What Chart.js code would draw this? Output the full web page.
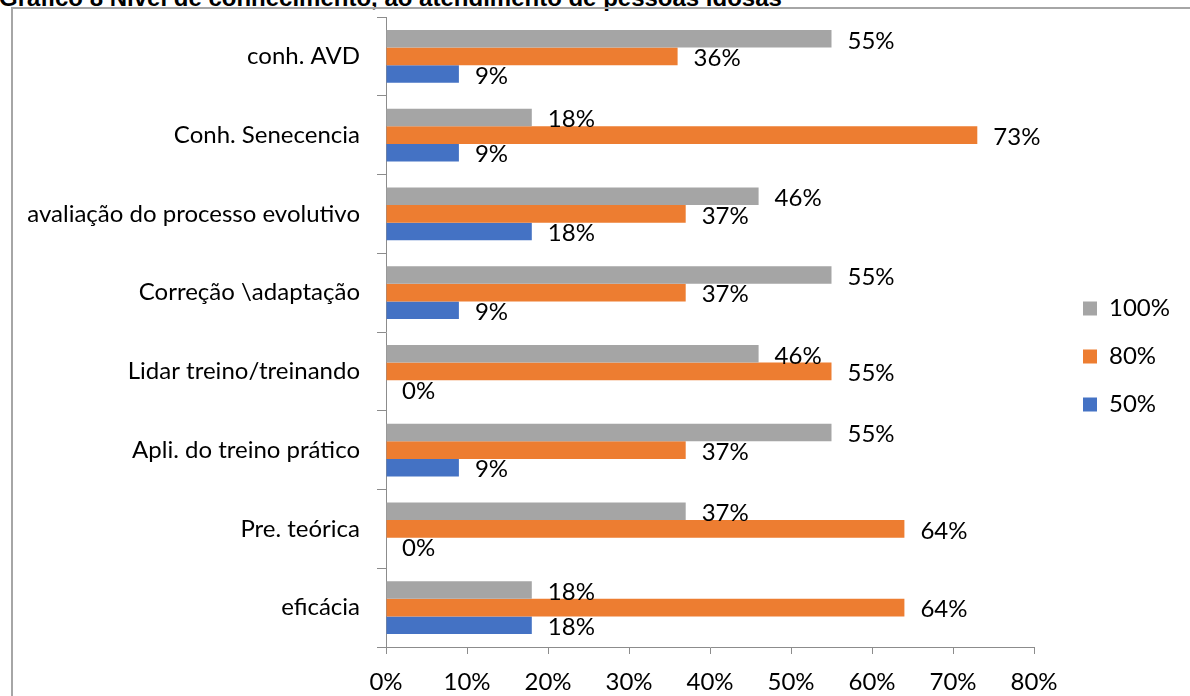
<!DOCTYPE html>
<html lang="pt">
<head>
  <meta charset="UTF-8">
  <title>Nível de conhecimento</title>
  <style>
    html, body {
      margin: 0;
      padding: 0;
      background: #fff;
      overflow: hidden;
    }
    .page {
      position: relative;
      width: 1190px;
      height: 696px;
      overflow: hidden;
    }
    .heading {
      position: absolute;
      left: -1px;
      top: -14px;
      font-family: "Liberation Sans", Arial, sans-serif;
      font-weight: bold;
      font-size: 24px;
      line-height: 24px;
      color: #000;
      white-space: nowrap;
    }
    .frame {
      position: absolute;
      left: 11px;
      top: 7px;
      width: 1400px;
      height: 900px;
      border: 2px solid #a6a6a6;
    }
    #chart {
      position: absolute;
      left: 0;
      top: 0;
    }
  </style>
  <script src="https://cdn.jsdelivr.net/npm/chart.js"></script>
</head>
<body>
  <div class="page">
    <div class="heading">Gráfico 8 Nível de conhecimento, ao atendimento de pessoas idosas</div>
    <div class="frame"></div>
    <canvas id="chart" width="1190" height="696"></canvas>
  </div>

  <script>
    // Categories, top to bottom
    const categories = [
      'conh. AVD',
      'Conh. Senecencia',
      'avaliação do processo evolutivo',
      'Correção \\adaptação',
      'Lidar treino/treinando',
      'Apli. do treino prático',
      'Pre. teórica',
      'eficácia'
    ];

    // Percent of answers per level
    const level100 = [55, 18, 46, 55, 46, 55, 37, 18];
    const level80 = [36, 73, 37, 37, 55, 37, 64, 64];
    const level50 = [9, 9, 18, 9, 0, 9, 0, 18];

    const xTicks = [0, 10, 20, 30, 40, 50, 60, 70, 80];

    const FONT = 'Lato, "Open Sans", sans-serif';
    const FONT_SIZE = 24;
    const AXIS_GREY = '#8c8c8c';

    // value labels drawn just past the end of each bar
    const barLabels = {
      id: 'barLabels',
      afterDatasetsDraw(chart) {
        const ctx = chart.ctx;
        ctx.save();
        ctx.font = FONT_SIZE + 'px ' + FONT;
        ctx.fillStyle = '#000';
        ctx.textAlign = 'left';
        ctx.textBaseline = 'middle';
        chart.data.datasets.forEach((ds, i) => {
          const meta = chart.getDatasetMeta(i);
          meta.data.forEach((bar, j) => {
            ctx.fillText(ds.data[j] + '%', bar.x + 16, bar.y + 2);
          });
        });
        ctx.restore();
      }
    };

    new Chart(document.getElementById('chart'), {
      type: 'bar',
      data: {
        labels: categories,
        datasets: [
          { label: '100%', data: level100, backgroundColor: '#a5a5a5' },
          { label: '80%', data: level80, backgroundColor: '#ed7d31' },
          { label: '50%', data: level50, backgroundColor: '#4472c4' }
        ]
      },
      options: {
        indexAxis: 'y',
        responsive: false,
        devicePixelRatio: 1,
        animation: false,
        categoryPercentage: 0.67,
        barPercentage: 1,
        layout: {
          padding: { left: 0, top: 17, right: 10, bottom: 0 }
        },
        scales: {
          x: {
            min: 0,
            max: 80,
            afterBuildTicks: scale => {
              scale.ticks = xTicks.map(v => ({ value: v }));
            },
            afterFit: scale => { scale.height = 49; },
            border: { display: true, color: AXIS_GREY, width: 1 },
            grid: {
              drawOnChartArea: false,
              color: AXIS_GREY,
              tickColor: AXIS_GREY,
              tickLength: 7
            },
            ticks: {
              color: '#000',
              padding: 14,
              font: { family: FONT, size: FONT_SIZE },
              maxRotation: 0,
              callback: v => v + '%'
            }
          },
          y: {
            afterFit: scale => {
              scale.width = 386;
              // labels sit inside their bands, no extra room above/below
              scale.paddingTop = 0;
              scale.paddingBottom = 0;
            },
            border: { display: true, color: AXIS_GREY, width: 1 },
            grid: {
              offset: true,
              drawOnChartArea: false,
              color: AXIS_GREY,
              tickColor: AXIS_GREY,
              tickLength: 9
            },
            ticks: {
              color: '#000',
              padding: 17,
              font: { family: FONT, size: FONT_SIZE }
            }
          },
          // empty strip between the plot and the legend
          gap: {
            type: 'linear',
            position: 'right',
            display: true,
            border: { display: false },
            grid: { display: false },
            ticks: { display: false },
            afterFit: scale => { scale.width = 25; }
          }
        },
        plugins: {
          legend: {
            position: 'right',
            labels: {
              boxWidth: 14,
              boxHeight: 14,
              padding: 24,
              color: '#000',
              font: { family: FONT, size: FONT_SIZE }
            }
          },
          tooltip: { enabled: false }
        }
      },
      plugins: [barLabels]
    });
  </script>
</body>
</html>
